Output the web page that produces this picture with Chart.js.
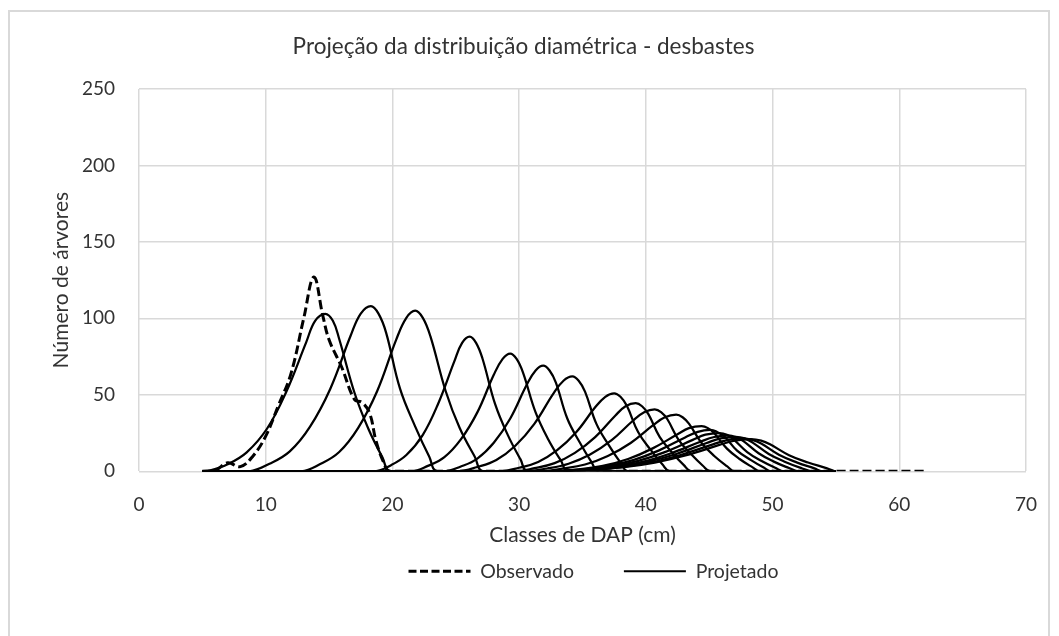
<!DOCTYPE html>
<html>
<head>
<meta charset="utf-8">
<script src="https://cdn.jsdelivr.net/npm/chart.js@4.4.1/dist/chart.umd.min.js"></script>
<style>
  html, body { margin: 0; padding: 0; background: #fff; }
  #wrap { position: relative; width: 1059px; height: 636px; }
  #frame { position: absolute; left: 8px; top: 10px; width: 1042px; height: 640px; border: 2px solid #d9d9d9; box-sizing: border-box; }
  canvas { position: absolute; left: 0; top: 0; }
</style>
</head>
<body>
<div id="wrap">
  <div id="frame"></div>
  <canvas id="chart" width="1059" height="636"></canvas>
</div>
<script>
// Observed diameter distribution (DAP class, number of trees)
const observado = [[5,0],[6,0.5],[7,5.5],[8,3],[9,10],[10,23],[11,43],[12,64],[13,100],[13.8,127],[14.5,102],[15,86],[16,68],[17,47],[17.6,45],[18.2,38],[18.7,20],[19.3,6],[19.8,0],[62,0]];

// Projected distributions, one per thinning step
const proj01 = [[5,0],[5.4,0],[7,4.6],[8.5,12.4],[10.1,27.8],[11.6,51.5],[13.2,84.5],[13.9,98.4],[14.7,103],[15.3,98.4],[15.8,86.5],[17,51.5],[18.1,27.8],[19.2,9.3],[19.9,0],[55,0]];
const proj02 = [[5,0],[8.7,0],[10.3,4.9],[11.9,13],[13.5,29.2],[15.1,54],[16.7,88.6],[17.5,103.1],[18.3,108],[18.9,103.1],[19.5,90.7],[20.6,54],[21.8,29.2],[22.9,9.7],[23.6,0],[55,0]];
const proj03 = [[5,0],[12.8,0],[14.3,4.7],[15.8,12.6],[17.3,28.4],[18.8,52.5],[20.3,86.1],[21.1,100.3],[21.8,105],[22.4,100.3],[23,88.2],[24.2,52.5],[25.3,28.4],[26.5,9.5],[27.2,0],[55,0]];
const proj04 = [[5,0],[18.6,0],[19.9,4],[21.1,10.6],[22.4,23.8],[23.6,44],[24.9,72.2],[25.5,84],[26.1,88],[26.6,84],[27.1,73.9],[28.1,44],[29.1,23.8],[30.1,7.9],[30.7,0],[55,0]];
const proj05 = [[5,0],[21.5,0],[22.8,3.5],[24.1,9.2],[25.4,20.8],[26.7,38.5],[28,63.1],[28.7,73.5],[29.3,77],[29.8,73.5],[30.3,64.7],[31.3,38.5],[32.3,20.8],[33.3,6.9],[33.9,0],[55,0]];
const proj06 = [[5,0],[24.1,0],[25.4,3.1],[26.7,8.3],[28,18.6],[29.3,34.5],[30.6,56.6],[31.3,65.9],[31.9,69],[32.4,65.9],[32.9,58],[33.8,34.5],[34.8,18.6],[35.7,6.2],[36.3,0],[55,0]];
const proj07 = [[5,0],[25.2,0],[26.7,2.8],[28.2,7.4],[29.7,16.7],[31.2,31],[32.7,50.8],[33.5,59.2],[34.2,62],[34.7,59.2],[35.2,52.1],[36.1,31],[37.1,16.7],[38,5.6],[38.6,0],[55,0]];
const proj08 = [[5,0],[28.5,0],[30,2.3],[31.5,6.1],[33,13.8],[34.5,25.5],[36,41.8],[36.8,48.7],[37.5,51],[38,48.7],[38.5,42.8],[39.4,25.5],[40.4,13.8],[41.3,4.6],[41.9,0],[55,0]];
const proj09 = [[5,0],[29.6,0],[31.2,2],[32.8,5.3],[34.4,12],[36,22.3],[37.6,36.5],[38.4,42.5],[39.2,44.5],[39.7,42.5],[40.2,37.4],[41.1,22.3],[42.1,12],[43,4],[43.6,0],[55,0]];
const proj10 = [[5,0],[30.5,0],[32.2,1.8],[33.9,4.9],[35.6,10.9],[37.3,20.3],[39,33.2],[39.9,38.7],[40.7,40.5],[41.2,38.7],[41.7,34],[42.6,20.3],[43.6,10.9],[44.5,3.6],[45.1,0],[55,0]];
const proj11 = [[5,0],[31.6,0],[33.4,1.7],[35.2,4.4],[37,10],[38.8,18.5],[40.6,30.3],[41.5,35.3],[42.4,37],[42.9,35.3],[43.4,31.1],[44.4,18.5],[45.4,10],[46.4,3.3],[47,0],[55,0]];
const proj12 = [[5,0],[32.7,0],[34.7,1.3],[36.6,3.5],[38.6,8],[40.5,14.8],[42.5,24.2],[43.4,28.2],[44.4,29.5],[44.9,28.2],[45.4,24.8],[46.4,14.8],[47.4,8],[48.4,2.7],[49,0],[55,0]];
const proj13 = [[5,0],[32.8,0],[34.9,1.2],[36.9,3.2],[39,7.3],[41,13.5],[43.1,22.1],[44.1,25.8],[45.1,27],[45.6,25.8],[46.2,22.7],[47.2,13.5],[48.3,7.3],[49.3,2.4],[49.9,0],[55,0]];
const proj14 = [[5,0],[32.9,0],[35.1,1.1],[37.2,3],[39.4,6.8],[41.5,12.5],[43.7,20.5],[44.7,23.9],[45.8,25],[46.4,23.9],[46.9,21],[48,12.5],[49.1,6.8],[50.2,2.3],[50.9,0],[55,0]];
const proj15 = [[5,0],[33,0],[35.3,1.1],[37.5,2.8],[39.8,6.3],[42,11.8],[44.3,19.3],[45.4,22.4],[46.5,23.5],[47.1,22.4],[47.7,19.7],[48.9,11.8],[50.1,6.3],[51.3,2.1],[52,0],[55,0]];
const proj16 = [[5,0],[33,0],[35.4,1],[37.7,2.7],[40.1,6.1],[42.4,11.3],[44.8,18.5],[45.9,21.5],[47.1,22.5],[47.8,21.5],[48.4,18.9],[49.7,11.3],[51,6.1],[52.3,2],[53.1,0],[55,0]];
const proj17 = [[5,0],[33,0],[35.5,1],[37.9,2.6],[40.4,5.8],[42.8,10.8],[45.3,17.6],[46.5,20.5],[47.7,21.5],[48.4,20.5],[49.1,18.1],[50.5,10.8],[51.9,5.8],[53.3,1.9],[53.9,0],[55,0]];
const proj18 = [[5,0],[33,0],[35.6,0.9],[38.1,2.5],[40.7,5.7],[43.2,10.5],[45.8,17.2],[47,20],[48.3,21],[49.1,20],[49.8,17.6],[51.3,10.5],[52.8,5.7],[54.3,1.9],[54.9,0],[55,0]];

const projetados = [proj01, proj02, proj03, proj04, proj05, proj06, proj07, proj08, proj09,
                    proj10, proj11, proj12, proj13, proj14, proj15, proj16, proj17, proj18];

const xTicksMax = 70;
const yTicksMax = 250;

const FONT = 'Lato';
const TXT = '#333';
const GRID = '#d9d9d9';

const toPts = arr => arr.map(p => ({ x: p[0], y: p[1] }));

const datasets = [{
    label: 'Observado',
    data: toPts(observado),
    borderColor: '#000',
    backgroundColor: '#000',
    borderWidth: 3,
    borderDash: [9, 4],
    pointRadius: 0,
    tension: 0.4,
    order: 0
}];
projetados.forEach((p) => {
    datasets.push({
        label: 'Projetado',
        data: toPts(p),
        borderColor: '#000',
        backgroundColor: '#000',
        borderWidth: 2.25,
        pointRadius: 0,
        tension: 0.4,
        order: 1
    });
});

// nudge the legend under the plot area, like the original
const shiftLegend = {
    id: 'shiftLegend',
    afterLayout(chart) {
        chart.legend.left += 70;
        chart.legend.right += 70;
    }
};

new Chart(document.getElementById('chart').getContext('2d'), {
    type: 'line',
    data: { datasets: datasets },
    plugins: [shiftLegend],
    options: {
        responsive: false,
        animation: false,
        layout: { padding: { left: 20, right: 32, top: 0, bottom: 45 } },
        plugins: {
            title: {
                display: true,
                text: 'Projeção da distribuição diamétrica - desbastes',
                color: TXT,
                font: { family: FONT, size: 22.5, weight: 'normal' },
                padding: { top: 33.5, bottom: 28.5 }
            },
            legend: {
                position: 'bottom',
                labels: {
                    usePointStyle: true,
                    pointStyleWidth: 62,
                    color: TXT,
                    font: { family: FONT, size: 19.5 },
                    padding: 10,
                    generateLabels: () => [
                        { text: 'Observado\u00a0\u00a0\u00a0\u00a0\u00a0\u00a0\u00a0\u00a0', datasetIndex: 0, pointStyle: 'line',
                          strokeStyle: '#000', fillStyle: '#000', lineWidth: 3, lineDash: [8, 3.5], fontColor: TXT, hidden: false },
                        { text: 'Projetado', datasetIndex: 1, pointStyle: 'line',
                          strokeStyle: '#000', fillStyle: '#000', lineWidth: 2, lineDash: [], fontColor: TXT, hidden: false }
                    ]
                }
            },
            tooltip: { enabled: false }
        },
        scales: {
            x: {
                type: 'linear',
                min: 0,
                max: xTicksMax,
                ticks: { stepSize: 10, color: TXT, font: { family: FONT, size: 19 }, padding: 22 },
                grid: { color: GRID, lineWidth: 1.5, drawTicks: false },
                border: { display: false },
                title: { display: true, text: 'Classes de DAP (cm)', color: TXT, font: { family: FONT, size: 21 }, padding: { top: 4, bottom: 3.4 } },
                afterFit: (s) => { s.height = 80.25; }
            },
            y: {
                min: 0,
                max: yTicksMax,
                ticks: { stepSize: 50, color: TXT, font: { family: FONT, size: 19 }, padding: 24 },
                grid: { color: GRID, lineWidth: 1.5, drawTicks: false },
                border: { display: false },
                title: { display: true, text: 'Número de árvores', color: TXT, font: { family: FONT, size: 21 }, padding: { top: 28.4, bottom: 0 } },
                afterFit: (s) => { s.width = 119; }
            }
        }
    }
});
</script>
</body>
</html>
